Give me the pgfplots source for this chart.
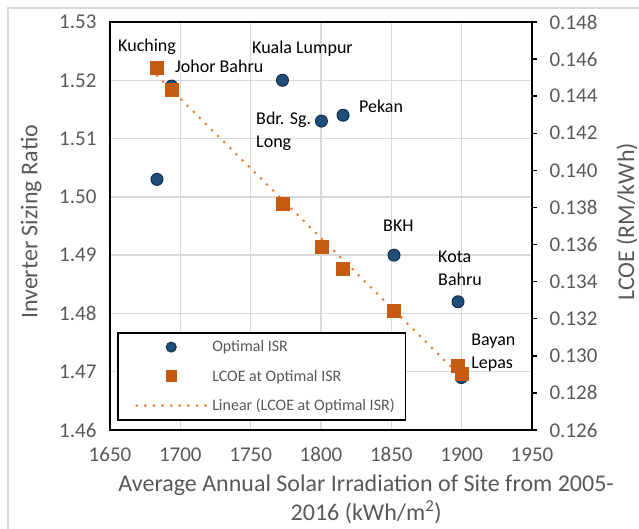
\documentclass[border=0pt]{standalone}
\usepackage{pgfplots}
\usepackage{pgfplotstable}
\pgfplotsset{compat=1.18}
\usepackage{fontspec}
\setmainfont{Carlito}
\definecolor{ticktxt}{HTML}{595959}
\definecolor{gridc}{HTML}{D9D9D9}
\definecolor{isrblue}{HTML}{1F4E79}
\definecolor{isredge}{HTML}{13304D}
\definecolor{lcoeorange}{HTML}{C55A11}
\definecolor{trendorange}{HTML}{ED7D31}

\pgfplotstableread{
x y
1683.4 1.503
1693.8 1.519
1772.6 1.520
1800.3 1.513
1815.7 1.514
1851.9 1.490
1897.4 1.482
1899.8 1.469
}\isrdata

\pgfplotstableread{
x y
1683.4 0.14556
1693.8 0.14437
1772.6 0.13822
1800.3 0.13588
1815.7 0.13472
1851.9 0.13243
1897.4 0.12945
1899.8 0.12906
}\lcoedata

\begin{document}
\begin{tikzpicture}
\useasboundingbox (-110pt,-99pt) rectangle (529pt,430pt);
\draw[gridc, line width=1.5pt] (-102pt,-99pt) -- (-102pt,422pt) -- (529pt,422pt);
\begin{axis}[
  scale only axis, width=422pt, height=408pt,
  xmin=1650, xmax=1950, ymin=1.46, ymax=1.53,
  xtick={1650,1700,1750,1800,1850,1900,1950},
  ytick={1.46,1.47,1.48,1.49,1.50,1.51,1.52,1.53},
  grid=major, major grid style={gridc, line width=1.5pt},
  axis line style={black, line width=1.8pt},
  major tick length=0pt,
  clip=false,
  /pgf/number format/assume math mode=true,
  /pgf/number format/1000 sep={},
  tick label style={font=\fontsize{21}{25}\selectfont, text=ticktxt},
  xticklabel shift=14pt,
  yticklabel shift=10pt,
  yticklabel style={/pgf/number format/.cd, fixed, fixed zerofill, precision=2},
  xlabel={Average Annual Solar Irradiation of Site from 2005-\\2016 (kWh/m\textsuperscript{2})},
  xlabel style={at={(axis description cs:0.607,0)}, anchor=center, yshift=-69.5pt, align=center, font=\fontsize{24}{29}\selectfont, text=ticktxt},
  ylabel={Inverter Sizing Ratio},
  ylabel style={at={(axis description cs:-0.187,0.51)}, anchor=center, font=\fontsize{24}{28}\selectfont, text=ticktxt},
]
\addplot[only marks, mark=*, mark size=6pt, mark options={fill=isrblue, draw=isredge, line width=1pt}] table[x=x, y=y] {\isrdata};

\begin{scope}[every node/.style={font=\fontsize{18}{23}\selectfont, text=black, inner sep=0pt, anchor=west, text height=12.6pt, text depth=4pt}]
\node at (axis cs:1655.7,1.52571) {Kuching};
\node at (axis cs:1696.2,1.52211) {Johor Bahru};
\node at (axis cs:1750.95,1.52537) {Kuala Lumpur};
\node at (axis cs:1827.0,1.51525) {Pekan};
\node at (axis cs:1844.1,1.49483) {BKH};
\end{scope}
\begin{scope}[every node/.style={font=\fontsize{18}{23}\selectfont, text=black, inner sep=0pt, anchor=west, align=left}]
\node at (axis cs:1753.8,1.51121) {Bdr. Sg.\\Long};
\node at (axis cs:1883.2,1.48779) {Kota\\Bahru};
\node at (axis cs:1906.7,1.47321) {Bayan\\Lepas};
\end{scope}
\end{axis}

\begin{axis}[
  scale only axis, width=422pt, height=408pt,
  xmin=1650, xmax=1950, ymin=0.126, ymax=0.148,
  axis x line=none,
  axis y line*=right,
  ytick={0.126,0.128,0.130,0.132,0.134,0.136,0.138,0.140,0.142,0.144,0.146,0.148},
  axis line style={black, line width=1.8pt},
  tick style={black, line width=1.5pt},
  tick align=outside, major tick length=5pt,
  /pgf/number format/assume math mode=true,
  tick label style={font=\fontsize{21}{25}\selectfont, text=ticktxt},
  yticklabel style={/pgf/number format/.cd, fixed, fixed zerofill, precision=3, /tikz/.cd, xshift=9pt},
  ylabel={LCOE (RM/kWh)},
  ylabel style={at={(axis description cs:1.225,0.51)}, anchor=center, rotate=0, font=\fontsize{24}{28}\selectfont, text=ticktxt},
  legend image code/.code={
    \path[draw=none, fill=none] (-10pt,-6pt) rectangle (69pt,6pt);
    \draw[mark repeat=2, mark phase=2, #1] plot coordinates {(0pt,0pt) (34.5pt,0pt) (69pt,0pt)};
  },
  legend cell align=left,
  legend style={at={(axis description cs:0.0166,0.0221)}, anchor=south west, draw=black, line width=1.5pt,
    font=\fontsize{16}{19}\selectfont, text=ticktxt, inner xsep=9pt, inner ysep=6pt,
    row sep=12.5pt, column sep=3pt, nodes={inner sep=2pt}},
]
\addlegendimage{only marks, mark=*, mark size=5pt, mark options={fill=isrblue, draw=isredge, line width=1pt}}
\addlegendentry{Optimal ISR}
\addplot[only marks, mark=square*, mark size=6.5pt, mark options={fill=lcoeorange, draw=lcoeorange}, legend image post style={mark size=5pt}] table[x=x, y=y] {\lcoedata};
\addlegendentry{LCOE at Optimal ISR}
\addplot[draw=trendorange, line width=3pt, line cap=round, dash pattern=on 0pt off 8.6pt, no marks] table[x=x, y={create col/linear regression={y=y}}] {\lcoedata};
\addlegendentry{Linear (LCOE at Optimal ISR)}
\end{axis}
\end{tikzpicture}
\end{document}
